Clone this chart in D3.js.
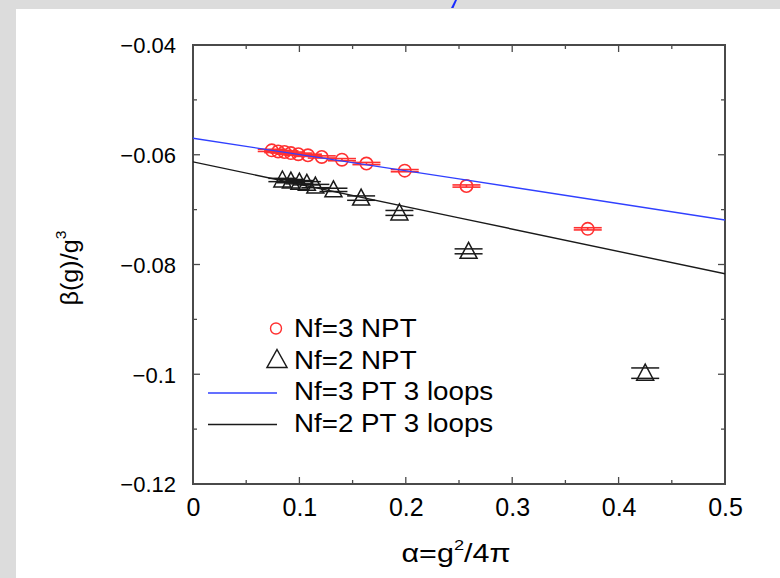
<!DOCTYPE html>
<html>
<head>
<meta charset="utf-8">
<script src="https://cdn.jsdelivr.net/npm/d3@7"></script>
<style>
  html, body { margin: 0; padding: 0; background: #dcdcdc; }
  svg { display: block; }
  text { font-family: "Liberation Sans", Arial, Helvetica, sans-serif; fill: #000; }
</style>
</head>
<body>
<svg id="chart" width="780" height="578"></svg>
<script>
// ---- data ----
const xTickValues = [0, 0.1, 0.2, 0.3, 0.4, 0.5];
const xTickLabels = ["0", "0.1", "0.2", "0.3", "0.4", "0.5"];
const yTickValues = [-0.12, -0.1, -0.08, -0.06, -0.04];
const yTickLabels = ["\u22120.12", "\u22120.1", "\u22120.08", "\u22120.06", "\u22120.04"];

const nf3Alpha = [0.074, 0.080, 0.086, 0.092, 0.099, 0.108, 0.121, 0.140, 0.163, 0.199, 0.257, 0.371];
const nf3Beta  = [-0.0592, -0.0594, -0.0595, -0.0597, -0.0599, -0.0601, -0.0604, -0.0609, -0.0616, -0.0629, -0.0657, -0.0735];
const nf3Err   = [0.0002, 0.0002, 0.0002, 0.0002, 0.0002, 0.0002, 0.0002, 0.0002, 0.0002, 0.0002, 0.0002, 0.0002];

const nf2Alpha = [0.084, 0.092, 0.100, 0.107, 0.115, 0.132, 0.158, 0.194, 0.259, 0.425];
const nf2Beta  = [-0.0646, -0.0648, -0.0650, -0.0652, -0.0657, -0.0664, -0.0679, -0.0706, -0.0776, -0.0998];
const nf2Err   = [0.0003, 0.0003, 0.0003, 0.0003, 0.0003, 0.0003, 0.0004, 0.00045, 0.00045, 0.00095];

const ptAlpha = [0, 0.25, 0.5];
const nf3PT   = [-0.0570, -0.0644, -0.0719];
const nf2PT   = [-0.0613, -0.0715, -0.0817];

const legendLabels = ["Nf=3 NPT", "Nf=2 NPT", "Nf=3 PT 3 loops", "Nf=2 PT 3 loops"];

// ---- drawing ----
const svg = d3.select("#chart");
const RED = "#ff3030", BLUE = "#3040ff", BLACK = "#1a1a1a", AXIS = "#4a4a4a";

// white page panel
svg.append("rect").attr("x", 16).attr("y", 9).attr("width", 764).attr("height", 569).attr("fill", "#fff");
// small blue mark at top edge
svg.append("path").attr("d", "M451,8 L453.5,8 L457,0 L455,0 Z").attr("fill", "#1a2cff");

const x = d3.scaleLinear().domain([0, 0.5]).range([193, 725]);
const y = d3.scaleLinear().domain([-0.12, -0.04]).range([484, 45]);

const X0 = x(0), X1 = x(0.5), Y0 = y(-0.12), Y1 = y(-0.04);

// ticks inward on all four sides
const xMinor = d3.range(0, 0.5001, 0.05);
const yMinor = d3.range(-0.12, -0.03999, 0.01);
const tg = svg.append("g").attr("stroke", AXIS).attr("stroke-width", 1.3);
xMinor.forEach((v, i) => {
  const len = (i % 2 === 0) ? 7 : 4;
  tg.append("line").attr("x1", x(v)).attr("x2", x(v)).attr("y1", Y0).attr("y2", Y0 - len);
  tg.append("line").attr("x1", x(v)).attr("x2", x(v)).attr("y1", Y1).attr("y2", Y1 + len);
});
yMinor.forEach((v, i) => {
  const len = (i % 2 === 0) ? 7 : 4;
  tg.append("line").attr("x1", X0).attr("x2", X0 + len).attr("y1", y(v)).attr("y2", y(v));
  tg.append("line").attr("x1", X1).attr("x2", X1 - len).attr("y1", y(v)).attr("y2", y(v));
});

// axes via d3 (labels only, no tick lines)
const xAxis = d3.axisBottom(x).tickValues(xTickValues).tickFormat((d, i) => xTickLabels[i]).tickSize(0).tickPadding(0);
const gx = svg.append("g").attr("transform", `translate(0,${Y0})`).call(xAxis);
gx.select(".domain").remove();
gx.selectAll("text").attr("font-size", 25).attr("font-family", "Liberation Sans, Arial, sans-serif")
  .attr("dy", null).attr("y", 32).attr("fill", "#000");

const yAxis = d3.axisLeft(y).tickValues(yTickValues).tickFormat((d, i) => yTickLabels[i]).tickSize(0).tickPadding(0);
const gy = svg.append("g").attr("transform", `translate(${X0},0)`).call(yAxis);
gy.select(".domain").remove();
gy.selectAll("text").attr("font-size", 22).attr("font-family", "Liberation Sans, Arial, sans-serif")
  .attr("x", -17).attr("dy", "0.36em").attr("fill", "#000");

// frame
svg.append("rect").attr("x", X0).attr("y", Y1).attr("width", X1 - X0).attr("height", Y0 - Y1)
  .attr("fill", "none").attr("stroke", AXIS).attr("stroke-width", 2);

// axis titles
const xt = svg.append("text").attr("transform", "translate(456,562) scale(1.22,1)")
  .attr("text-anchor", "middle").attr("font-size", 25);
xt.append("tspan").text("\u03b1=g");
xt.append("tspan").attr("font-size", 15).attr("dy", -12).text("2");
xt.append("tspan").attr("dy", 12).text("/4\u03c0");

const yt = svg.append("text").attr("transform", "translate(78,268) rotate(-90) scale(1.05,1)").attr("text-anchor", "middle").attr("font-size", 24);
yt.append("tspan").text("\u03b2(g)/g");
yt.append("tspan").attr("font-size", 15).attr("dy", -12).text("3");

// clip for data
svg.append("clipPath").attr("id", "clip").append("rect")
  .attr("x", X0).attr("y", Y1).attr("width", X1 - X0).attr("height", Y0 - Y1);
const plot = svg.append("g").attr("clip-path", "url(#clip)");

const CAP = 14;
// Nf=3 circles with error caps
const nf3 = nf3Alpha.map((a, i) => ({a, b: nf3Beta[i], e: nf3Err[i]}));
const g3 = plot.append("g").attr("stroke", RED).attr("fill", "none").attr("stroke-width", 1.6);
nf3.forEach(d => {
  const cx = x(d.a), cy = y(d.b);
  [d.b - d.e, d.b + d.e].forEach(v => {
    g3.append("line").attr("x1", cx - CAP).attr("x2", cx + CAP).attr("y1", y(v)).attr("y2", y(v));
  });
  g3.append("line").attr("x1", cx).attr("x2", cx).attr("y1", y(d.b - d.e)).attr("y2", y(d.b + d.e));
  g3.append("circle").attr("cx", cx).attr("cy", cy).attr("r", 6.2);
});

// Nf=2 triangles with error caps
const nf2 = nf2Alpha.map((a, i) => ({a, b: nf2Beta[i], e: nf2Err[i]}));
const g2 = plot.append("g").attr("stroke", BLACK).attr("fill", "none").attr("stroke-width", 1.5);
const tri = (cx, cy) => `M${cx},${cy - 9} L${cx + 8.5},${cy + 7} L${cx - 8.5},${cy + 7} Z`;
nf2.forEach(d => {
  const cx = x(d.a), cy = y(d.b);
  [d.b - d.e, d.b + d.e].forEach(v => {
    g2.append("line").attr("x1", cx - CAP).attr("x2", cx + CAP).attr("y1", y(v)).attr("y2", y(v));
  });
  g2.append("path").attr("d", tri(cx, cy));
});

// PT lines
const line = d3.line().x(d => x(d[0])).y(d => y(d[1]));
plot.append("path").datum(ptAlpha.map((a, i) => [a, nf3PT[i]])).attr("d", line)
  .attr("fill", "none").attr("stroke", BLUE).attr("stroke-width", 1.4);
plot.append("path").datum(ptAlpha.map((a, i) => [a, nf2PT[i]])).attr("d", line)
  .attr("fill", "none").attr("stroke", BLACK).attr("stroke-width", 1.4);

// legend
const lg = svg.append("g");
const rowsY = [337, 368.5, 400, 431.5];
const textX = 294;
lg.append("circle").attr("cx", 276).attr("cy", rowsY[0] - 8.5).attr("r", 5.5)
  .attr("fill", "none").attr("stroke", RED).attr("stroke-width", 1.4);
lg.append("path").attr("d", `M277,${rowsY[1] - 19} L287,${rowsY[1] - 1} L267,${rowsY[1] - 1} Z`)
  .attr("fill", "none").attr("stroke", BLACK).attr("stroke-width", 1.5);
lg.append("line").attr("x1", 208).attr("x2", 277).attr("y1", rowsY[2] - 7).attr("y2", rowsY[2] - 7)
  .attr("stroke", BLUE).attr("stroke-width", 1.4);
lg.append("line").attr("x1", 208).attr("x2", 277).attr("y1", rowsY[3] - 7).attr("y2", rowsY[3] - 7)
  .attr("stroke", BLACK).attr("stroke-width", 1.4);
legendLabels.forEach((t, i) => {
  lg.append("text").attr("transform", `translate(${textX},${rowsY[i]}) scale(1.11,1)`)
    .attr("font-size", 25).text(t);
});
</script>
</body>
</html>
